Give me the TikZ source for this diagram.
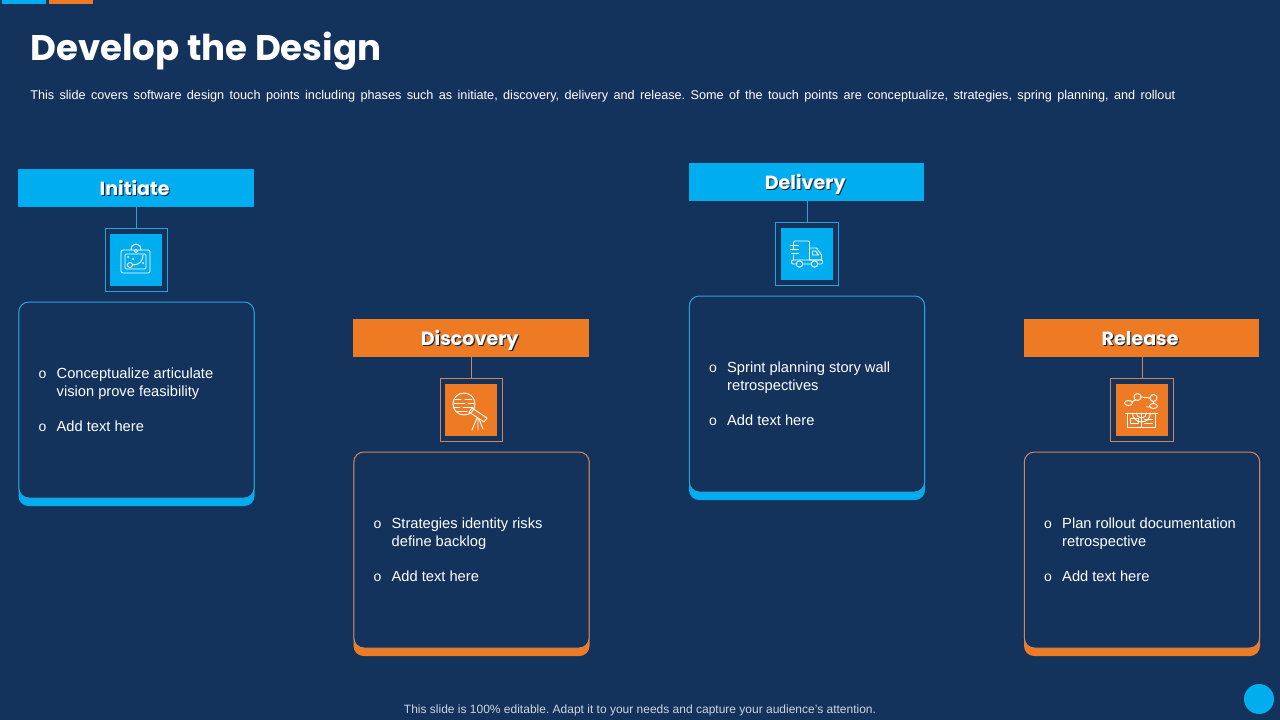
\documentclass[tikz,border=0pt]{standalone}
\usepackage{fontspec}
\setmainfont{Liberation Sans}
\newfontfamily\headfont{Poppins}
\definecolor{navy}{RGB}{20,51,92}
\definecolor{skyc}{RGB}{0,173,239}
\definecolor{orangec}{RGB}{238,122,35}
\definecolor{skyline}{RGB}{45,160,215}
\definecolor{orangeline}{RGB}{205,135,90}
\definecolor{shade}{RGB}{10,40,70}
\definecolor{footc}{RGB}{205,212,222}
\newcommand{\shadowed}[1]{\leavevmode\rlap{\kern.8pt\raisebox{-.8pt}{\textcolor{shade}{#1}}}#1}
\tikzset{
  x=0.75pt,y=-0.75pt,
  headbar/.style={rectangle,inner sep=0pt,outer sep=0pt,minimum width=176.5pt,minimum height=28.5pt,text=white,text height=11pt,text depth=0pt,font=\headfont\bfseries\fontsize{14.3}{18}\selectfont},
  framebox/.style={rectangle,inner sep=0pt,outer sep=0pt,minimum width=47pt,minimum height=47pt,line width=.75pt},
  iconbox/.style={rectangle,inner sep=0pt,outer sep=0pt,minimum width=39pt,minimum height=39pt},
  cardbase/.style={rectangle,inner sep=0pt,outer sep=0pt,rounded corners=7.5pt,minimum width=177pt,minimum height=153pt},
  cardface/.style={rectangle,inner sep=0pt,outer sep=0pt,rounded corners=7.5pt,minimum width=176.5pt,minimum height=147pt,fill=navy,line width=.75pt},
  itemtext/.style={inner sep=0pt,outer sep=0pt,anchor=north west,align=left,text=white,font=\fontsize{11}{13.5}\selectfont},
  bulletmark/.style={inner sep=0pt,outer sep=0pt,text=white,font=\fontsize{10.5}{12}\selectfont},
  iconline/.style={draw=white,line width=.7pt,line join=round,line cap=round},
  link/.style={line width=.75pt},
}
% id, x0, y0, colour, line colour, title, first item
\newcommand{\phase}[7]{
  \node[headbar,fill=#4] (#1h) at (#2+118,#3+19) {\shadowed{#6}\kern2pt};
  \node[framebox,draw=#5] (#1f) at (#2+118.5,#3+91) {};
  \node[iconbox,fill=#4] (#1s) at (#2+118,#3+91) {};
  \draw[link,draw=#5] (#1f.north) -- (#1f.north |- #1h.south);
  \node[cardbase,fill=#4] (#1b) at (#2+118.5,#3+235) {};
  \node[cardface,draw=#5] (#1c) at (#2+118.5,#3+231) {};
  \node[bulletmark] (#1p) at (#2+24.5,#3+205.5) {o};
  \node[itemtext] (#1t) at (#2+38.7,#3+198.5) {#7};
  \node[bulletmark] (#1q) at (#2+24.5,#3+258.5) {o};
  \node[itemtext] (#1u) at (#2+38.7,#3+251.5) {Add text here};
}
\begin{document}
\frenchspacing
\begin{tikzpicture}
\useasboundingbox (0,0) rectangle (1280,720);
\fill[navy] (0,0) rectangle (1280,720);
\fill[skyc] (2,0) rectangle (46,4);
\fill[orangec] (49,0) rectangle (93,4);
\node[inner sep=0pt,anchor=base west,text=white,font=\headfont\bfseries\fontsize{26.7}{30}\selectfont] (title) at (30,60.5) {Develop the Design};
\node[inner sep=0pt,anchor=base west,text=white,font=\fontsize{9.5}{11}\selectfont] (sub) at (30,100) {\hbox to 858.75pt{This slide covers software design touch points including phases such as initiate, discovery, delivery and release. Some of the touch points are conceptualize, strategies, spring planning, and rollout}};
\phase{a}{18}{169}{skyc}{skyline}{Initiate}{Conceptualize articulate\\vision prove feasibility}
\phase{b}{353}{319}{orangec}{orangeline}{Discovery}{Strategies identity risks\\define backlog}
\phase{c}{688.5}{163}{skyc}{skyline}{Delivery}{Sprint planning story wall\\retrospectives}
\phase{d}{1023.5}{319}{orangec}{orangeline}{Release}{Plan rollout documentation\\retrospective}
% icon: board
\begin{scope}[shift={(as.center)},iconline]
\draw[rounded corners=1.5pt] (-15,-10) rectangle (14,13);
\draw[rounded corners=1pt] (-11,-6) rectangle (10,9);
\draw (-5,-10) .. controls (-5,-18) and (5,-18) .. (5,-10);
\draw (0,-9) circle (1.8);
\draw (-3,5) .. controls (3,5) and (7,1) .. (7,-5);
\draw (-6,5) circle (2.5);
\fill[white] (-8,-3) circle (1); \fill[white] (-3,-1) circle (1); \fill[white] (7,3) circle (1);
\end{scope}
% icon: globe and telescope
\begin{scope}[shift={(bs.center)},iconline]
\draw (-7,-6) circle (11);
\draw (-16,-11) -- (-10,-11) (-6,-11) -- (1,-11) (-17,-7) -- (-6,-7) (-3,-7) -- (3,-7) (-17,-3) -- (-11,-3) (-8,-3) -- (2,-3) (-15,1) -- (-4,1);
\draw (-2,2) -- (1,-2) -- (16,8) -- (13,12) -- cycle;
\draw (6,8) -- (1,20) (7,9) -- (7,20) (8,9) -- (12,19);
\end{scope}
% icon: truck
\begin{scope}[shift={(cs.center)},iconline]
\draw[rounded corners=1pt] (-13,-5) -- (-13,-13) -- (3,-13) -- (3,6);
\draw (-13,1) -- (-13,6);
\draw (3,-6) -- (10,-6) -- (15,1) -- (15,6) -- (3,6);
\draw (6,-3) -- (9,-3) -- (12,1) -- (6,1) -- cycle;
\draw[rounded corners=1pt] (-15,6) rectangle (16,10);
\draw[fill=skyc] (-7,10) circle (3.2) (8,10) circle (3.2);
\draw (-16,-9) -- (-8,-9) (-16,-5) -- (-8,-5) (-15,-1) -- (-8,-1);
\end{scope}
% icon: opened box with network
\begin{scope}[shift={(ds.center)},iconline]
\draw (-14,3) rectangle (14,17);
\draw (-16,3) -- (16,3) (0,3) -- (0,17);
\draw (-11,8) rectangle (-3,13) (3,9) -- (11,9) (3,13) -- (11,13);
\draw (-9,3) arc (180:0:9) (-5,3) arc (180:0:5);
\draw (-4,-13) circle (3.5) (12,-12) circle (3.5);
\draw (-13,-7) ellipse (4 and 2.5) (12,-4) ellipse (4 and 2.5);
\draw (-1,-13) -- (8.5,-12) (-6,-10) -- (-10,-8) (12,-8.5) -- (12,-6.5) (9,-3) -- (5,-3);
\end{scope}
\node[inner sep=0pt,text=footc,font=\fontsize{9}{11}\selectfont] (foot) at (640,710) {This slide is 100\% editable. Adapt it to your needs and capture your audience's attention.};
\node[circle,fill=skyc,inner sep=0pt,minimum size=22.5pt] (dot) at (1259,699) {};
\end{tikzpicture}
\end{document}
